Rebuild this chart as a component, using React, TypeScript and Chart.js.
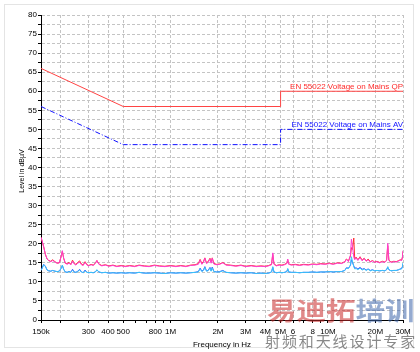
import React, { useEffect, useRef } from 'react';
import { Chart, registerables } from 'chart.js';

Chart.register(...registerables);

// ---- Data (frequency in MHz, level in dBµV) ----
const freqMHz = [
  0.150, 0.153, 0.156, 0.160, 0.164, 0.168, 0.173, 0.178, 0.184, 0.190,
  0.196, 0.201, 0.205, 0.209, 0.214, 0.220, 0.226, 0.232, 0.238, 0.244,
  0.250, 0.257, 0.264, 0.271, 0.278, 0.286, 0.294, 0.302, 0.312, 0.322,
  0.332, 0.340, 0.350, 0.365, 0.385, 0.405, 0.430, 0.455, 0.485, 0.515,
  0.550, 0.590, 0.630, 0.680, 0.730, 0.790, 0.850, 0.920, 1.000, 1.080,
  1.160, 1.250, 1.340, 1.430, 1.500, 1.540, 1.580, 1.620, 1.650, 1.690,
  1.730, 1.780, 1.810, 1.840, 1.880, 1.950, 2.050, 2.150, 2.250, 2.400,
  2.600, 2.800, 3.000, 3.250, 3.500, 3.750, 4.000, 4.200, 4.380, 4.460,
  4.540, 4.700, 4.900, 5.100, 5.300, 5.480, 5.550, 5.630, 5.850, 6.200,
  6.600, 7.000, 7.500, 8.000, 8.500, 9.000, 9.600, 10.20, 10.80, 11.50,
  12.20, 12.80, 13.10, 13.50, 13.90, 14.10, 14.30, 14.60, 14.80, 15.10,
  15.50, 16.00, 16.50, 17.00, 17.50, 18.00, 18.60, 19.20, 19.80, 20.50,
  21.30, 22.20, 23.00, 23.60, 24.00, 24.40, 25.20, 26.20, 27.20, 28.20,
  28.80, 29.40, 29.80, 30.00,
];

// magenta trace
const peakLevel = [
  21.7, 20.5, 19.2, 17.2, 16.0, 15.6, 15.3, 15.6, 15.2, 14.9,
  15.0, 16.5, 18.2, 16.2, 14.9, 14.6, 14.9, 14.5, 15.4, 14.7,
  14.4, 14.9, 15.2, 14.5, 14.3, 15.1, 14.4, 14.2, 14.5, 14.3,
  14.8, 15.6, 14.6, 14.2, 14.4, 14.1, 14.3, 14.0, 14.2, 14.0,
  14.2, 14.0, 14.3, 14.1, 14.0, 14.3, 14.1, 14.0, 14.2, 14.0,
  14.2, 14.0, 14.3, 14.4, 14.6, 15.7, 14.6, 15.2, 16.2, 14.8,
  15.1, 16.0, 14.9, 16.2, 14.7, 14.5, 14.6, 15.0, 14.4, 14.3,
  14.1, 14.3, 14.0, 14.2, 14.0, 14.1, 14.0, 14.2, 14.5, 17.6,
  14.6, 14.2, 14.4, 14.3, 14.5, 14.8, 16.0, 14.6, 14.4, 14.5,
  14.3, 14.5, 14.4, 14.6, 14.5, 14.7, 14.6, 14.8, 14.6, 14.9,
  14.8, 15.2, 15.9, 15.3, 17.0, 21.2, 19.5, 16.5, 15.8, 16.3,
  15.6, 16.4, 15.5, 16.1, 15.4, 15.8, 15.2, 15.5, 15.1, 15.3,
  15.0, 15.3, 15.1, 15.6, 20.1, 15.6, 15.1, 15.3, 15.2, 15.5,
  15.7, 15.6, 16.5, 18.2,
];

// cyan trace
const avgLevel = [
  13.0, 13.6, 14.5, 14.0, 13.1, 12.9, 12.8, 13.0, 12.8, 12.7,
  12.8, 13.5, 14.4, 13.3, 12.6, 12.5, 12.7, 12.5, 13.0, 12.6,
  12.5, 12.7, 13.1, 12.6, 12.4, 12.9, 12.5, 12.4, 12.5, 12.4,
  12.6, 13.2, 12.6, 12.4, 12.5, 12.3, 12.4, 12.3, 12.4, 12.3,
  12.4, 12.3, 12.5, 12.3, 12.3, 12.4, 12.3, 12.2, 12.4, 12.3,
  12.4, 12.3, 12.4, 12.5, 12.6, 13.4, 12.7, 13.0, 13.8, 12.8,
  12.9, 13.6, 12.8, 13.7, 12.7, 12.6, 12.6, 12.9, 12.5, 12.4,
  12.3, 12.4, 12.3, 12.4, 12.2, 12.3, 12.2, 12.3, 12.6, 14.0,
  12.6, 12.4, 12.5, 12.4, 12.5, 12.7, 13.5, 12.6, 12.5, 12.5,
  12.4, 12.5, 12.5, 12.6, 12.5, 12.6, 12.6, 12.7, 12.6, 12.7,
  12.7, 13.0, 13.6, 13.5, 14.5, 16.6, 15.5, 14.0, 13.4, 13.5,
  13.2, 13.6, 13.1, 13.4, 13.0, 13.3, 12.9, 13.1, 12.9, 13.0,
  12.9, 13.0, 12.9, 13.2, 14.0, 13.2, 12.9, 13.0, 13.0, 13.2,
  13.3, 13.4, 14.0, 15.0,
];

// red trace (mostly under magenta)
const qpLevel = [
  21.7, 20.5, 19.2, 17.2, 16.0, 15.6, 15.4, 15.8, 15.3, 14.9,
  15.0, 16.5, 18.0, 16.2, 14.9, 14.8, 15.1, 14.6, 15.7, 14.8,
  14.6, 15.1, 15.5, 14.7, 14.4, 15.3, 14.5, 14.3, 14.6, 14.4,
  14.9, 15.6, 14.7, 14.3, 14.5, 14.2, 14.4, 14.1, 14.3, 14.1,
  14.3, 14.1, 14.4, 14.2, 14.1, 14.4, 14.2, 14.1, 14.3, 14.1,
  14.3, 14.1, 14.4, 14.5, 14.8, 15.9, 14.8, 15.4, 16.3, 15.0,
  15.3, 16.2, 15.1, 16.3, 14.9, 14.6, 14.7, 15.1, 14.5, 14.4,
  14.2, 14.4, 14.1, 14.3, 14.1, 14.2, 14.1, 14.3, 14.6, 17.2,
  14.7, 14.3, 14.5, 14.4, 14.6, 14.9, 15.8, 14.7, 14.5, 14.6,
  14.4, 14.6, 14.5, 14.7, 14.6, 14.8, 14.7, 14.9, 14.7, 15.0,
  14.9, 15.3, 16.0, 15.5, 16.8, 19.0, 18.5, 21.5, 16.0, 16.5,
  15.8, 16.6, 15.7, 16.2, 15.5, 16.0, 15.3, 15.6, 15.2, 15.4,
  15.1, 15.4, 15.2, 15.7, 19.5, 15.7, 15.2, 15.4, 15.3, 15.6,
  15.8, 15.7, 16.6, 18.0,
];

// blue trace (mostly under cyan)
const avLevel = [
  13.0, 13.8, 14.6, 14.1, 13.1, 12.9, 12.8, 13.0, 12.8, 12.7,
  12.8, 13.5, 14.3, 13.3, 12.6, 12.5, 12.8, 12.5, 13.3, 12.6,
  12.5, 12.8, 13.3, 12.6, 12.4, 13.1, 12.5, 12.4, 12.5, 12.4,
  12.6, 13.1, 12.6, 12.4, 12.5, 12.3, 12.4, 12.3, 12.4, 12.3,
  12.4, 12.3, 12.5, 12.3, 12.3, 12.4, 12.3, 12.2, 12.4, 12.3,
  12.4, 12.3, 12.4, 12.5, 12.7, 13.6, 12.8, 13.2, 14.0, 12.9,
  13.0, 13.8, 12.9, 13.9, 12.8, 12.6, 12.7, 13.0, 12.5, 12.4,
  12.3, 12.4, 12.3, 12.4, 12.2, 12.3, 12.2, 12.3, 12.6, 13.8,
  12.6, 12.4, 12.5, 12.4, 12.5, 12.7, 13.4, 12.6, 12.5, 12.5,
  12.4, 12.5, 12.5, 12.6, 12.5, 12.6, 12.6, 12.7, 12.6, 12.7,
  12.7, 13.0, 13.7, 13.6, 14.3, 15.8, 15.2, 14.2, 13.6, 13.7,
  13.4, 13.8, 13.3, 13.5, 13.1, 13.4, 13.0, 13.2, 12.9, 13.0,
  12.9, 13.0, 12.9, 13.2, 13.8, 13.2, 12.9, 13.0, 13.0, 13.2,
  13.4, 13.5, 14.1, 14.8,
];

// EN 55022 limits
const limitFreq = [0.15, 0.5, 5, 5, 30];
const limitQp = [66, 56, 56, 60, 60];
const limitAv = [56, 46, 46, 50, 50];
const qpLabel = 'EN 55022 Voltage on Mains QP';
const avLabel = 'EN 55022 Voltage on Mains AV';

// axis ticks
const xTickValues = [0.15, 0.2, 0.3, 0.4, 0.5, 0.6, 0.7, 0.8, 0.9, 1, 2, 3, 4, 5, 6, 7, 8, 9, 10, 20, 30];
const xTickLabels = ['150k', '', '300', '400', '500', '', '', '800', '', '1M', '2M', '3M', '4M', '5M', '6', '', '8', '', '10M', '20M', '30M'];
const xGridValues = [0.2, 0.3, 0.4, 0.5, 0.8, 1, 2, 3, 4, 5, 6, 8, 10, 20, 30];
const yMin = 0;
const yMax = 80;
const yStep = 2.5;
const xTitle = 'Frequency in Hz';
const yTitle = 'Level in dBµV';

const FONT = 'Arial, "Liberation Sans", sans-serif';
const GRID = '#c4c4c4';

const pts = (xs: number[], ys: number[]) => xs.map((x, i) => ({ x, y: ys[i] }));

const decorPlugin = {
  id: 'decor',
  beforeDraw(chart: any) {
    const ctx = chart.ctx;
    ctx.save();
    ctx.fillStyle = '#fff';
    ctx.fillRect(0, 0, chart.width, chart.height);
    ctx.strokeStyle = '#c8c8c8';
    ctx.lineWidth = 1;
    ctx.setLineDash([1, 1]);
    ctx.strokeRect(4.5, 4.5, 409, 343);
    ctx.restore();
  },
  afterDraw(chart: any) {
    const { ctx } = chart;
    const x = chart.scales.x;
    const y = chart.scales.y;
    ctx.save();
    ctx.font = `8px ${FONT}`;
    ctx.textAlign = 'right';
    ctx.textBaseline = 'alphabetic';
    ctx.fillStyle = '#ff2a2a';
    ctx.fillText(qpLabel, x.getPixelForValue(30), y.getPixelForValue(60) - 2);
    ctx.fillStyle = '#1414ff';
    ctx.fillText(avLabel, x.getPixelForValue(30), y.getPixelForValue(50) - 2);

    ctx.fillStyle = '#000';
    ctx.textAlign = 'center';
    ctx.fillText(xTitle, (x.left + x.right) / 2, 346.5);
    ctx.translate(24, 171);
    ctx.rotate(-Math.PI / 2);
    ctx.font = `7px ${FONT}`;
    ctx.fillText(yTitle, 0, 0);
    ctx.restore();
  },
};

export default function App() {
  const ref = useRef<HTMLCanvasElement | null>(null);

  useEffect(() => {
    if (!ref.current) return;
    const chart = new Chart(ref.current, {
      type: 'line',
      data: {
        datasets: [
          { data: pts(freqMHz, avgLevel), borderColor: '#38c8f8', borderWidth: 1, pointRadius: 0 },
          { data: pts(freqMHz, peakLevel), borderColor: '#ff3cd2', borderWidth: 1, pointRadius: 0 },
          { data: pts(freqMHz, avLevel), borderColor: '#3a50ff', borderWidth: 1, pointRadius: 0 },
          { data: pts(freqMHz, qpLevel), borderColor: '#ff3030', borderWidth: 1, pointRadius: 0 },
          { data: pts(limitFreq, limitQp), borderColor: '#ff4444', borderWidth: 1, pointRadius: 0 },
          { data: pts(limitFreq, limitAv), borderColor: '#1010ff', borderWidth: 1, pointRadius: 0, borderDash: [5, 2, 1, 2] },
        ],
      },
      options: {
        responsive: false,
        devicePixelRatio: 1,
        animation: false,
        layout: { padding: { left: 0, top: 15, right: 17, bottom: 0 } },
        plugins: { legend: { display: false }, tooltip: { enabled: false } },
        elements: { line: { tension: 0 } },
        scales: {
          x: {
            type: 'logarithmic',
            min: 0.15,
            max: 30,
            afterBuildTicks: (scale: any) => {
              scale.ticks = xTickValues.map((v) => ({ value: v }));
            },
            afterFit: (scale: any) => {
              scale.height = 32;
            },
            ticks: {
              autoSkip: false,
              maxRotation: 0,
              minRotation: 0,
              padding: 4,
              color: '#000',
              font: { family: FONT, size: 8 },
              callback: (_v: any, i: number) => xTickLabels[i],
            },
            grid: {
              color: (c: any) => (c.tick && xGridValues.includes(c.tick.value) ? GRID : 'rgba(0,0,0,0)'),
              tickColor: '#000',
              tickLength: 3,
              lineWidth: 1,
            },
            border: { display: true, color: '#000', width: 1, dash: [3, 2] },
          },
          y: {
            type: 'linear',
            min: yMin,
            max: yMax,
            afterFit: (scale: any) => {
              scale.width = 41;
            },
            ticks: {
              stepSize: yStep,
              autoSkip: false,
              padding: 1,
              color: '#000',
              font: { family: FONT, size: 8 },
              callback: (v: any) => (Number(v) % 5 === 0 ? String(v) : ''),
            },
            grid: {
              color: (c: any) => (c.tick && c.tick.value === 0 ? 'rgba(0,0,0,0)' : GRID),
              tickColor: '#000',
              tickLength: 3,
              lineWidth: 1,
            },
            border: { display: true, color: '#000', width: 1, dash: [3, 2] },
          },
        },
      },
      plugins: [decorPlugin],
    } as any);
    return () => chart.destroy();
  }, []);

  return (
    <div style={{ position: 'absolute', left: 0, top: 0, width: 420, height: 352, background: '#fff' }}>
      <canvas ref={ref} width={420} height={352} style={{ display: 'block' }} />
      <div
        style={{
          position: 'absolute',
          left: 267,
          top: 297,
          fontFamily: '"Noto Sans CJK SC", sans-serif',
          fontWeight: 700,
          fontSize: 25,
          lineHeight: '25px',
          whiteSpace: 'nowrap',
          transform: 'scaleX(1.18)',
          transformOrigin: 'left top',
          pointerEvents: 'none',
        }}
      >
        <span style={{ color: 'rgba(200,40,40,0.55)' }}>易迪拓</span>
        <span style={{ color: 'rgba(60,100,170,0.55)' }}>培训</span>
      </div>
      <div
        style={{
          position: 'absolute',
          left: 265,
          top: 333,
          fontFamily: '"Noto Sans CJK SC", sans-serif',
          fontSize: 15,
          lineHeight: '15px',
          letterSpacing: 1.9,
          color: '#888',
          whiteSpace: 'nowrap',
          pointerEvents: 'none',
        }}
      >
        射频和天线设计专家
      </div>
    </div>
  );
}
